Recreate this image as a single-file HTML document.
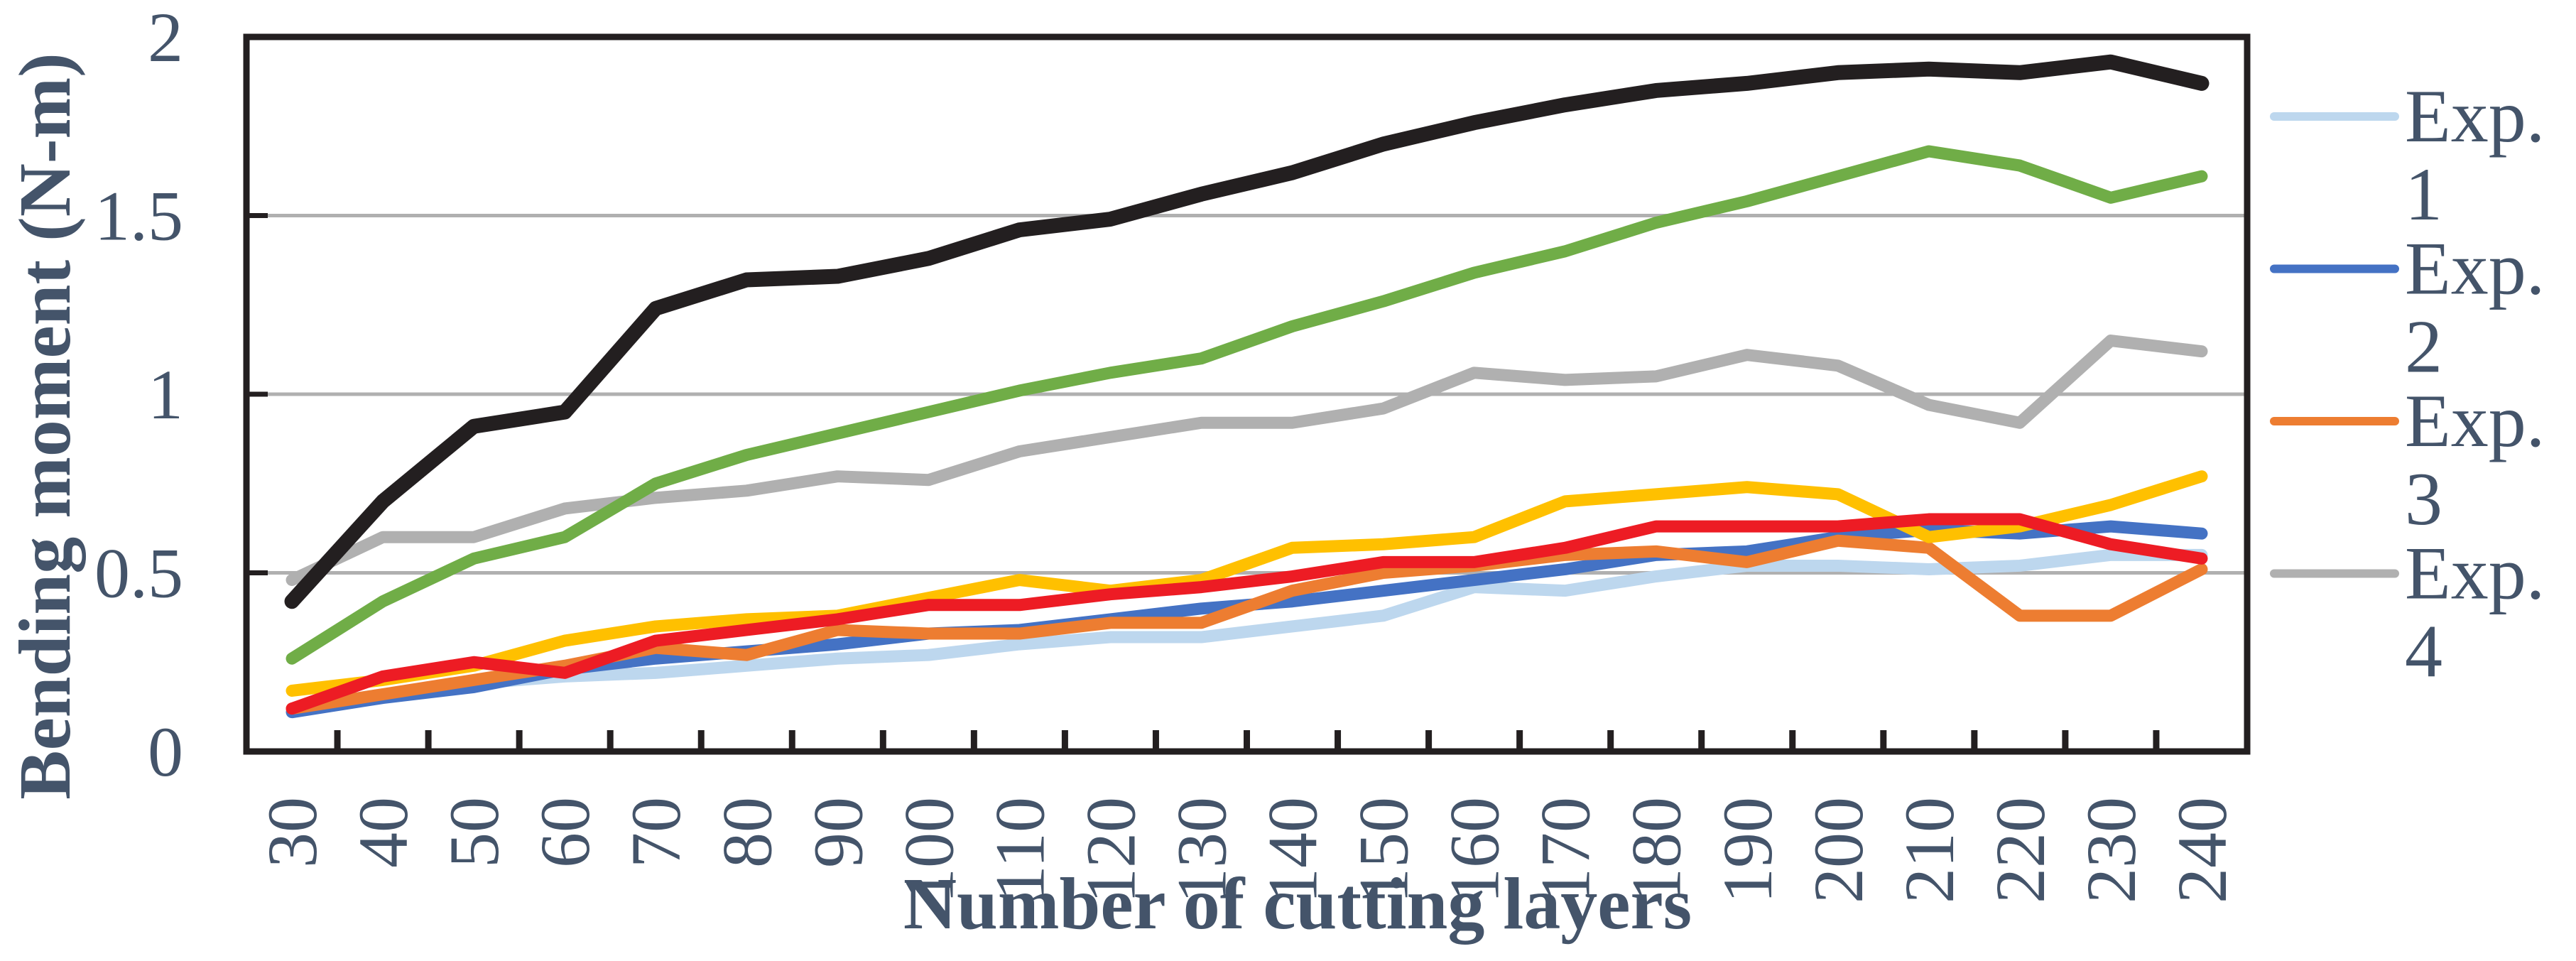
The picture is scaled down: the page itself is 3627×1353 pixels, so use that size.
<!DOCTYPE html>
<html><head><meta charset="utf-8">
<style>
html,body{margin:0;padding:0;background:#fff;}
svg{display:block;}
text{font-family:"Liberation Serif","Times New Roman","Noto Serif CJK SC",serif;fill:#44546A;}
</style></head>
<body>
<svg id="chart" width="3627" height="1353" viewBox="0 0 3627 1353" xmlns="http://www.w3.org/2000/svg">
<g id="grid"></g>
<g id="series"></g>
<rect x="347" y="52" width="2817" height="1006" fill="none" stroke="#231F20" stroke-width="9"/>
<g id="ticks"></g>
<g id="ylabels"></g>
<g id="xlabels"></g>
<text transform="translate(98,600) rotate(-90)" text-anchor="middle" font-size="104" font-weight="bold">Bending moment (N-m)</text>
<text x="1827" y="1307" text-anchor="middle" font-size="104" font-weight="bold">Number of cutting layers</text>
<g id="legend"></g>
</svg>
<script>
const categories = [30,40,50,60,70,80,90,100,110,120,130,140,150,160,170,180,190,200,210,220,230,240];
const yTicks = [0,0.5,1,1.5,2];
const yTickLabels = ["0","0.5","1","1.5","2"];
const exp1 = [0.12,0.16,0.19,0.21,0.22,0.24,0.26,0.27,0.30,0.32,0.32,0.35,0.38,0.46,0.45,0.49,0.52,0.52,0.51,0.52,0.55,0.55];
const exp2 = [0.11,0.15,0.18,0.23,0.26,0.28,0.30,0.33,0.34,0.37,0.40,0.42,0.45,0.48,0.51,0.55,0.56,0.60,0.62,0.61,0.63,0.61];
const exp3 = [0.12,0.16,0.20,0.24,0.29,0.27,0.34,0.33,0.33,0.36,0.36,0.45,0.50,0.52,0.55,0.56,0.53,0.59,0.57,0.38,0.38,0.51];
const exp4 = [0.48,0.60,0.60,0.68,0.71,0.73,0.77,0.76,0.84,0.88,0.92,0.92,0.96,1.06,1.04,1.05,1.11,1.08,0.97,0.92,1.15,1.12];
const exp5 = [0.17,0.20,0.24,0.31,0.35,0.37,0.38,0.43,0.48,0.45,0.48,0.57,0.58,0.60,0.70,0.72,0.74,0.72,0.60,0.63,0.69,0.77];
const exp6 = [0.26,0.42,0.54,0.60,0.75,0.83,0.89,0.95,1.01,1.06,1.10,1.19,1.26,1.34,1.40,1.48,1.54,1.61,1.68,1.64,1.55,1.61];
const exp7 = [0.42,0.70,0.91,0.95,1.24,1.32,1.33,1.38,1.46,1.49,1.56,1.62,1.70,1.76,1.81,1.85,1.87,1.90,1.91,1.90,1.93,1.87];
const exp8 = [0.12,0.21,0.25,0.22,0.31,0.34,0.37,0.41,0.41,0.44,0.46,0.49,0.53,0.53,0.57,0.63,0.63,0.63,0.65,0.65,0.58,0.54];
const seriesNames = ["Exp. 1","Exp. 2","Exp. 3","Exp. 4","Exp. 5","Exp. 6","Exp. 7","Exp. 8"];
const seriesData = [exp1,exp2,exp3,exp4,exp5,exp6,exp7,exp8];
const legendNames = ["Exp.","Exp.","Exp.","Exp."];
const legendNums = ["1","2","3","4"];

const NS="http://www.w3.org/2000/svg";
const L=347,R=3164,T=52,B=1058;
const band=(R-L)/categories.length;
const xPos=i=>L+band*(i+0.5);
const yPos=v=>B-(v/2)*(B-T);
const colors=["#BDD7EE","#4472C4","#ED7D31","#B0B0B0","#FFC000","#70AD47","#231F20","#ED1C24"];
const widths=[17,17,17,17,17,17,21,17];
const order=[0,1,2,3,4,5,6,7];
function mk(tag,attrs,parent){const e=document.createElementNS(NS,tag);for(const k in attrs)e.setAttribute(k,attrs[k]);parent.appendChild(e);return e;}

const grid=document.getElementById('grid');
yTicks.forEach((v,i)=>{
  if(v>0&&v<2){
    const g=mk('line',{x1:L,x2:R,y1:yPos(v),y2:yPos(v),stroke:'#B0B0B0','stroke-width':5},grid);
    
    
    const t=mk('line',{x1:L,x2:L+30,y1:yPos(v),y2:yPos(v),stroke:'#231F20','stroke-width':7},grid);
    
    
  }
  const tx=mk('text',{x:258,y:yPos(v)+34,'text-anchor':'end','font-size':100},document.getElementById('ylabels'));
  tx.textContent=yTickLabels[i];
  
  
});

const ticks=document.getElementById('ticks');
for(let i=1;i<categories.length;i++){
  const x=L+band*i;
  const t=mk('line',{x1:x,x2:x,y1:B,y2:B-30,stroke:'#231F20','stroke-width':9},ticks);
  
  
}

const xl=document.getElementById('xlabels');
categories.forEach((c,i)=>{
  const t=mk('text',{transform:`translate(${xPos(i)+34},1122) rotate(-90)`,'text-anchor':'end','font-size':100},xl);
  t.textContent=String(c);
  
  
});

const sg=document.getElementById('series');
order.forEach(s=>{
  const pts=seriesData[s].map((v,i)=>xPos(i)+','+yPos(v)).join(' ');
  const p=mk('polyline',{points:pts,fill:'none',stroke:colors[s],'stroke-width':widths[s],'stroke-linejoin':'round','stroke-linecap':'round'},sg);
  
  
});

const lg=document.getElementById('legend');
legendNames.forEach((n,i)=>{
  const y=164+i*214.5;
  const g=mk('g',{},lg);
  
  
  mk('line',{x1:3202,x2:3372,y1:y,y2:y,stroke:colors[i],'stroke-width':12,'stroke-linecap':'round'},g);
  const t1=mk('text',{x:3386,y:y+35,'font-size':106},g);
  t1.textContent=n;
  const t2=mk('text',{x:3386,y:y+145,'font-size':106},g);
  t2.textContent=legendNums[i];
});
</script>
</body></html>
